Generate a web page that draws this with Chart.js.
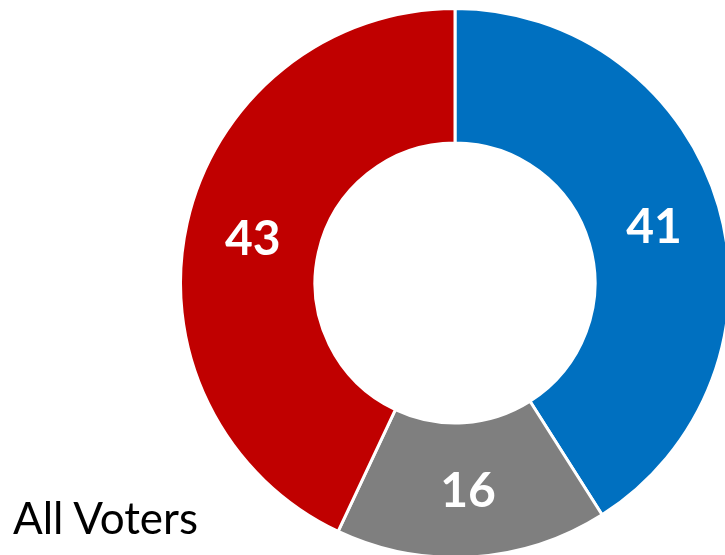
<!DOCTYPE html>
<html>
<head>
<meta charset="utf-8">
<script src="https://cdn.jsdelivr.net/npm/chart.js@4"></script>
<style>
    html, body { margin: 0; padding: 0; background: #fff; overflow: hidden; width: 725px; height: 555px; }
    #wrap { position: absolute; left: 179px; top: 7px; width: 552px; height: 552px; }
    #title { position: absolute; left: 13px; top: 495px; font-family: Lato, sans-serif; font-size: 44px; color: #000; line-height: 1; }
</style>
</head>
<body>
<div id="wrap"><canvas id="donut" width="552" height="552"></canvas></div>
<div id="title">All Voters</div>
<script>
const categories = ['Democrat', 'Undecided', 'Republican'];
const values = [41, 16, 43];
const colors = ['#0070C0', '#7F7F7F', '#C00000'];

const sliceLabels = {
    id: 'sliceLabels',
    afterDatasetsDraw(chart) {
        const ctx = chart.ctx;
        const meta = chart.getDatasetMeta(0);
        ctx.save();
        ctx.fillStyle = '#fff';
        ctx.font = 'bold 48px Lato, sans-serif';
        ctx.textAlign = 'center';
        ctx.textBaseline = 'middle';
        meta.data.forEach((arc, i) => {
            const pos = arc.tooltipPosition();
            ctx.fillText(values[i], pos.x, pos.y + 2);
        });
        ctx.restore();
    }
};

new Chart(document.getElementById('donut').getContext('2d'), {
    type: 'doughnut',
    data: {
        labels: categories,
        datasets: [{
            data: values,
            backgroundColor: colors,
            borderColor: '#fff',
            borderWidth: 3
        }]
    },
    options: {
        responsive: false,
        animation: false,
        cutout: '51%',
        layout: { padding: 0 },
        plugins: {
            legend: { display: false },
            tooltip: { enabled: false }
        }
    },
    plugins: [sliceLabels]
});
</script>
</body>
</html>
